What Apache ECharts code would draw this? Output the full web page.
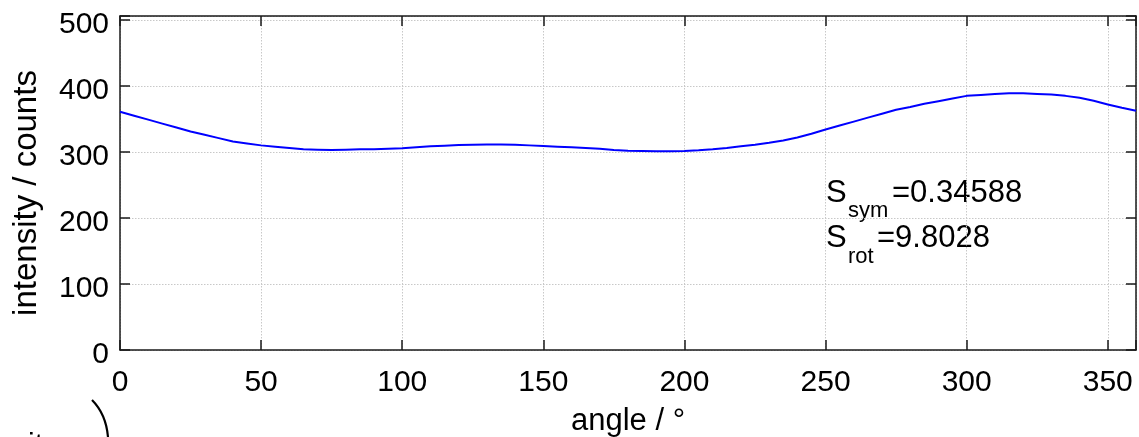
<!DOCTYPE html>
<html>
<head>
<meta charset="utf-8">
<script src="https://cdn.jsdelivr.net/npm/echarts@6/dist/echarts.min.js"></script>
<style>
  html, body { margin: 0; padding: 0; background: #fff; }
  #chart { width: 1139px; height: 437px; }
</style>
</head>
<body>
<div id="chart"></div>
<script>
// angle in degrees, 5 degree steps
var angles = [0, 5, 10, 15, 20, 25, 30, 35, 40, 45, 50, 55, 60, 65, 70, 75, 80, 85, 90, 95,
  100, 105, 110, 115, 120, 125, 130, 135, 140, 145, 150, 155, 160, 165, 170, 175, 180, 185, 190, 195,
  200, 205, 210, 215, 220, 225, 230, 235, 240, 245, 250, 255, 260, 265, 270, 275, 280, 285, 290, 295,
  300, 305, 310, 315, 320, 325, 330, 335, 340, 345, 350, 355, 360];
// intensity / counts
var intensity = [361, 355, 349, 343, 337, 331, 326, 321, 316, 313, 310, 308, 306, 304, 303.5, 303, 303.5, 304, 304, 305,
  305.5, 307, 308.5, 309.5, 310.5, 311, 311.5, 311.5, 311, 310, 309, 308, 307, 306, 305, 303, 302, 301.5, 301, 301,
  301.5, 302.5, 304, 306, 308.5, 311, 314, 317.5, 322, 327.5, 334, 340, 346, 352, 358, 364, 368, 373, 377, 381,
  385, 386.5, 388, 389, 389, 388, 387, 385, 382, 377.5, 372, 367, 362.5];

var xTitle = "angle / °";
var yTitle = "intensity / counts";
var symValue = "=0.34588";
var rotValue = "=9.8028";

var points = angles.map(function (a, i) { return [a, intensity[i]]; });

var font = "Liberation Sans, Arial, Helvetica, sans-serif";
var axisColor = "#1a1a1a";

var myChart = echarts.init(document.getElementById("chart"));

var tickStyle = { show: true, inside: true, length: 10, lineStyle: { color: axisColor, width: 1.5 } };
var lineStyle = { show: true, onZero: false, lineStyle: { color: axisColor, width: 1.5 } };
var gridStyle = { show: true, lineStyle: { color: "#c8c8c8", width: 1, type: [1.5, 1.5] } };

myChart.setOption({
  animation: false,
  grid: { left: 120, right: 3, top: 16, bottom: 87, containLabel: false, outerBoundsMode: "none" },
  xAxis: [
    {
      type: "value",
      min: 0,
      max: 360,
      interval: 50,
      position: "bottom",
      name: xTitle,
      nameLocation: "middle",
      nameGap: 56,
      nameTextStyle: { fontFamily: font, fontSize: 31, color: "#000" },
      axisLine: lineStyle,
      axisTick: tickStyle,
      axisLabel: { margin: 18, fontFamily: font, fontSize: 30, color: "#000",
        formatter: function (v) { return v % 50 === 0 ? String(v) : ""; } },
      splitLine: gridStyle
    },
    {
      type: "value",
      min: 0,
      max: 360,
      interval: 50,
      position: "top",
      axisLine: lineStyle,
      axisTick: tickStyle,
      axisLabel: { show: false },
      splitLine: { show: false }
    }
  ],
  yAxis: [
    {
      type: "value",
      min: 0,
      max: 506,
      interval: 100,
      position: "left",
      axisLine: lineStyle,
      axisTick: tickStyle,
      // labels sit a few px below their ticks in the original
      axisLabel: { margin: 11, fontFamily: font, fontSize: 30, color: "#000", verticalAlign: "top", lineHeight: 9,
        formatter: function (v) { return v % 100 === 0 ? String(v) : ""; } },
      splitLine: gridStyle
    },
    {
      type: "value",
      min: 0,
      max: 506,
      interval: 100,
      position: "right",
      axisLine: lineStyle,
      axisTick: tickStyle,
      axisLabel: { show: false },
      splitLine: { show: false }
    }
  ],
  series: [
    {
      type: "line",
      data: points,
      showSymbol: false,
      lineStyle: { color: "#0000ff", width: 2 }
    }
  ],
  graphic: [
    // y axis title
    { type: "text", x: 27, y: 193, rotation: Math.PI / 2,
      style: { text: yTitle, fontFamily: font, fontSize: 33, fill: "#000", align: "center", verticalAlign: "middle" } },
    // annotation
    { type: "text", x: 826, y: 193, style: { text: "S", fontFamily: font, fontSize: 31, fill: "#000", verticalAlign: "middle" } },
    { type: "text", x: 848, y: 211, style: { text: "sym", fontFamily: font, fontSize: 22, fill: "#000", verticalAlign: "middle" } },
    { type: "text", x: 892, y: 193, style: { text: symValue, fontFamily: font, fontSize: 31, fill: "#000", verticalAlign: "middle" } },
    { type: "text", x: 826, y: 238, style: { text: "S", fontFamily: font, fontSize: 31, fill: "#000", verticalAlign: "middle" } },
    { type: "text", x: 848, y: 257, style: { text: "rot", fontFamily: font, fontSize: 22, fill: "#000", verticalAlign: "middle" } },
    { type: "text", x: 877, y: 238, style: { text: rotValue, fontFamily: font, fontSize: 31, fill: "#000", verticalAlign: "middle" } },
    // remnants of a neighbouring panel at the bottom-left
    { type: "bezierCurve", shape: { x1: 92, y1: 400, x2: 108, y2: 437, cpx1: 106, cpy1: 414 },
      style: { stroke: "#000", lineWidth: 2.2, fill: null } },
    { type: "text", x: 28, y: 431, style: { text: "it", fontFamily: font, fontSize: 30, fill: "#000", verticalAlign: "top" } }
  ]
});
</script>
</body>
</html>
